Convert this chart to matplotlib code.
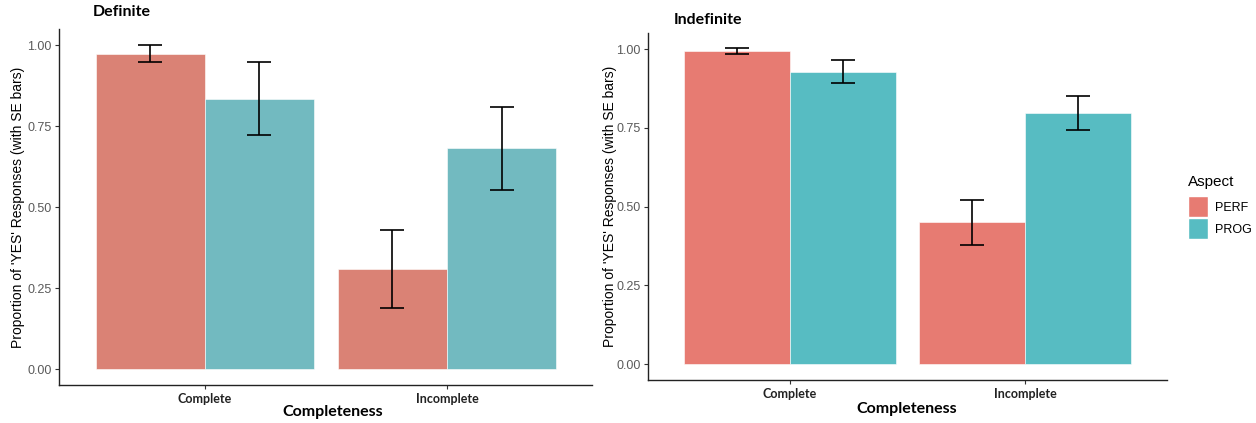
import numpy as np
import matplotlib
matplotlib.use("Agg")
import matplotlib.pyplot as plt
from matplotlib.patches import Patch

# data
categories = ["Complete", "Incomplete"]
aspects = ["PERF", "PROG"]

definite_perf = [0.973, 0.308]
definite_prog = [0.834, 0.682]
definite_perf_se = [0.027, 0.121]
definite_prog_se = [0.112, 0.128]

indefinite_perf = [0.994, 0.450]
indefinite_prog = [0.928, 0.796]
indefinite_perf_se = [0.008, 0.071]
indefinite_prog_se = [0.036, 0.054]

W, H = 1256, 423
SANS = ["Liberation Sans", "DejaVu Sans"]
HEAD = ["Lato", "DejaVu Sans"]


def px_box(x0, y0, x1, y1):
    """Pixel box (top-left origin) -> figure fraction rect."""
    return [x0 / W, 1 - y1 / H, (x1 - x0) / W, (y1 - y0) / H]


def draw_panel(ax, perf, prog, perf_se, prog_se, colors):
    x = np.arange(1, len(categories) + 1)
    bw = 0.45
    ax.bar(x - bw / 2, perf, width=bw, color=colors[0], edgecolor="white", linewidth=0.4, zorder=2)
    ax.bar(x + bw / 2, prog, width=bw, color=colors[1], edgecolor="white", linewidth=0.4, zorder=2)
    ax.errorbar(x - bw / 2, perf, yerr=perf_se, fmt="none", ecolor="black",
                elinewidth=1.2, capsize=8.6, capthick=1.2, zorder=3)
    ax.errorbar(x + bw / 2, prog, yerr=prog_se, fmt="none", ecolor="black",
                elinewidth=1.2, capsize=8.6, capthick=1.2, zorder=3)

    top = max(np.max(np.add(perf, perf_se)), np.max(np.add(prog, prog_se)))
    ax.set_xlim(0.4, 2.6)
    ax.set_ylim(-0.05 * top, 1.05 * top)

    ax.set_yticks([0, 0.25, 0.5, 0.75, 1.0])
    ax.set_yticklabels(["0.00", "0.25", "0.50", "0.75", "1.00"], family=SANS, fontsize=9, color="#5a5a5a")
    ax.set_xticks(x)
    ax.set_xticklabels(categories, family=HEAD, fontsize=9, fontweight="bold", color="#222222")
    ax.tick_params(axis="both", length=3, width=0.8, color="#333333", pad=2.5)

    for side in ["top", "right"]:
        ax.spines[side].set_visible(False)
    for side in ["left", "bottom"]:
        ax.spines[side].set_color("#222222")
        ax.spines[side].set_linewidth(1.0)


fig = plt.figure(figsize=(W / 100, H / 100), dpi=100)

ax1 = fig.add_axes(px_box(59.3, 28.8, 592.4, 385.2))
draw_panel(ax1, definite_perf, definite_prog, definite_perf_se, definite_prog_se,
           colors=["#DA8275", "#72BAC0"])

ax2 = fig.add_axes(px_box(648.2, 32.7, 1166.7, 380.0))
draw_panel(ax2, indefinite_perf, indefinite_prog, indefinite_perf_se, indefinite_prog_se,
           colors=["#E77B72", "#57BCC2"])

ylab = "Proportion of 'YES' Responses (with SE bars)"
fig.text(18 / W, 1 - 207 / H, ylab, rotation=90, ha="center", va="center", family=SANS, fontsize=10)
fig.text(610 / W, 1 - 206 / H, ylab, rotation=90, ha="center", va="center", family=SANS, fontsize=10)

fig.text(333 / W, 1 - 412 / H, "Completeness", ha="center", va="center", family=HEAD, fontsize=11.5, fontweight="bold")
fig.text(907 / W, 1 - 409 / H, "Completeness", ha="center", va="center", family=HEAD, fontsize=11.5, fontweight="bold")

fig.text(93 / W, 1 - 12.5 / H, "Definite", ha="left", va="center", family=HEAD, fontsize=11.5, fontweight="bold")
fig.text(674 / W, 1 - 20 / H, "Indefinite", ha="left", va="center", family=HEAD, fontsize=11.5, fontweight="bold")

# legend: title as separate text so the gap above the keys matches
fig.text(1188 / W, 1 - 182 / H, "Aspect", ha="left", va="center", family=SANS, fontsize=11)
handles = [Patch(facecolor=c, edgecolor="white") for c in ["#E77B72", "#57BCC2"]]
leg = fig.legend(handles, aspects, loc="upper left",
                 bbox_to_anchor=(1182 / W, 1 - 190 / H), frameon=False, borderpad=0,
                 prop={"family": SANS, "size": 9},
                 handlelength=1.6, handleheight=2.2, handletextpad=0.5, labelspacing=0.1)

fig.savefig("out.png", dpi=100)
